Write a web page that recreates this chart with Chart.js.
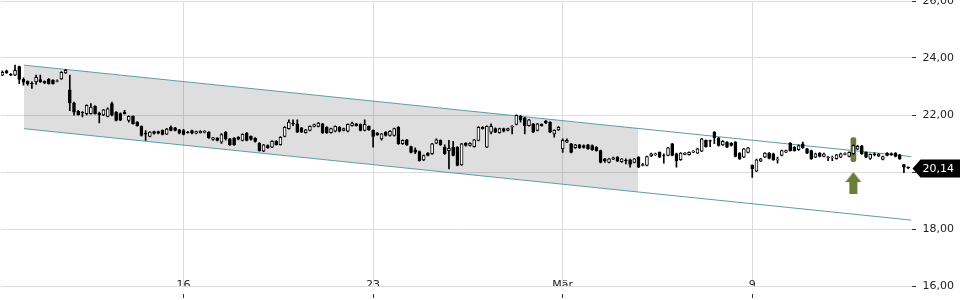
<!DOCTYPE html>
<html>
<head>
<meta charset="utf-8">
<script src="https://cdn.jsdelivr.net/npm/chart.js@4.4.1/dist/chart.umd.min.js"></script>
<style>
  html, body { margin: 0; padding: 0; background: #fff; overflow: hidden; }
  #wrap { position: absolute; left: 0; top: -5px; width: 960px; height: 310px; }
</style>
</head>
<body>
<div id="wrap"><canvas id="chart"></canvas></div>
<script>
// hourly candles, 9 per trading day; index 0 = first hour of Mon 9 Feb
const firstCandle = 2;

const candleOpen = [
  23.40, 23.55, 23.43, 23.40, 23.70, 23.25, 23.18, 23.12, 23.16, 23.24, 23.18, 23.25,
  23.22, 23.18, 23.27, 23.48, 22.88, 22.42, 22.13, 22.10, 22.05, 22.05, 22.30, 22.06,
  22.00, 21.95, 22.40, 22.10, 22.05, 22.10, 21.81, 21.95, 21.75, 21.60, 21.36, 21.25,
  21.42, 21.42, 21.46, 21.33, 21.57, 21.55, 21.48, 21.45, 21.40, 21.45, 21.36, 21.38,
  21.39, 21.40, 21.14, 21.19, 21.05, 21.40, 21.16, 21.19, 21.22, 21.11, 21.37, 21.25,
  21.19, 21.01, 20.73, 20.93, 20.87, 21.08, 20.96, 21.25, 21.52, 21.72, 21.69, 21.55,
  21.38, 21.46, 21.60, 21.60, 21.69, 21.57, 21.38, 21.43, 21.57, 21.46, 21.43, 21.63,
  21.69, 21.67, 21.46, 21.60, 21.46, 21.37, 21.16, 21.40, 21.28, 21.28, 21.57, 20.99,
  21.13, 20.89, 20.78, 20.72, 20.42, 20.66, 20.64, 21.01, 21.11, 20.87, 20.75, 20.87,
  20.87, 20.25, 21.01, 20.93, 20.89, 21.11, 21.57, 20.87, 21.40, 21.52, 21.38, 21.52,
  21.46, 21.57, 21.67, 21.95, 21.90, 21.63, 21.69, 21.46, 21.67, 21.79, 21.75, 21.34,
  21.48, 20.81, 21.05, 20.99, 20.85, 20.95, 20.93, 20.95, 20.93, 20.87, 20.75, 20.46,
  20.34, 20.45, 20.52, 20.36, 20.42, 20.43, 20.34, 20.52, 20.23, 20.23, 20.56, 20.60,
  20.69, 20.58, 20.58, 20.99, 20.64, 20.43, 20.62, 20.61, 20.70, 20.66, 20.73, 21.11,
  21.10, 21.40, 21.20, 20.95, 21.05, 21.01, 21.05, 20.66, 20.52, 20.69, 20.23, 20.03,
  20.38, 20.52, 20.66, 20.64, 20.42, 20.58, 20.70, 21.01, 20.87, 20.78, 20.99, 20.81,
  20.75, 20.52, 20.66, 20.55, 20.50, 20.50, 20.47, 20.52, 20.62, 20.55, 20.64, 20.80,
  20.92, 20.69, 20.48, 20.64, 20.56, 20.44, 20.66, 20.65, 20.66, 20.60, 20.26, 20.17
];
const candleHigh = [
  23.55, 23.58, 23.45, 23.75, 23.72, 23.30, 23.20, 23.16, 23.40, 23.40, 23.20, 23.28,
  23.24, 23.23, 23.52, 23.60, 23.40, 22.45, 22.16, 22.12, 22.36, 22.40, 22.33, 22.10,
  22.20, 22.25, 22.45, 22.12, 22.08, 22.16, 21.97, 21.97, 21.77, 21.62, 21.45, 21.42,
  21.44, 21.44, 21.48, 21.53, 21.62, 21.57, 21.50, 21.50, 21.43, 21.47, 21.44, 21.45,
  21.45, 21.42, 21.22, 21.21, 21.35, 21.43, 21.18, 21.21, 21.24, 21.34, 21.39, 21.27,
  21.21, 21.03, 20.97, 20.95, 21.10, 21.10, 21.24, 21.59, 21.83, 21.83, 21.83, 21.57,
  21.50, 21.62, 21.68, 21.74, 21.71, 21.59, 21.54, 21.62, 21.59, 21.54, 21.69, 21.75,
  21.71, 21.69, 21.83, 21.62, 21.48, 21.39, 21.36, 21.42, 21.45, 21.54, 21.59, 21.13,
  21.15, 20.91, 20.85, 20.74, 20.60, 20.68, 21.01, 21.16, 21.13, 20.95, 21.11, 21.08,
  20.89, 21.01, 21.03, 21.03, 21.15, 21.59, 21.59, 21.62, 21.69, 21.55, 21.54, 21.54,
  21.54, 21.63, 22.01, 21.99, 21.92, 21.85, 21.71, 21.71, 21.69, 21.81, 21.77, 21.48,
  21.59, 21.16, 21.16, 21.01, 20.97, 20.97, 20.95, 20.97, 20.95, 20.89, 20.77, 20.48,
  20.48, 20.52, 20.54, 20.48, 20.46, 20.45, 20.48, 20.54, 20.30, 20.56, 20.66, 20.66,
  20.71, 20.64, 20.87, 21.01, 20.66, 20.68, 20.68, 20.71, 20.75, 20.83, 21.18, 21.13,
  21.12, 21.42, 21.22, 21.10, 21.07, 21.03, 21.07, 20.68, 20.83, 20.87, 20.25, 20.45,
  20.48, 20.68, 20.68, 20.66, 20.52, 20.77, 20.77, 21.03, 20.89, 20.95, 21.05, 20.83,
  20.77, 20.66, 20.68, 20.66, 20.55, 20.56, 20.62, 20.66, 20.67, 20.71, 20.95, 20.94,
  20.94, 20.71, 20.64, 20.67, 20.65, 20.56, 20.68, 20.67, 20.68, 20.62, 20.27, 20.18
];
const candleLow = [
  23.38, 23.46, 23.38, 23.38, 23.10, 23.05, 23.05, 22.93, 23.07, 23.14, 23.10, 23.08,
  23.08, 23.16, 23.25, 23.46, 22.15, 21.99, 21.99, 21.93, 22.00, 22.03, 22.03, 21.72,
  21.98, 21.93, 21.97, 21.79, 21.80, 22.03, 21.75, 21.68, 21.61, 21.26, 21.11, 21.23,
  21.33, 21.34, 21.30, 21.31, 21.44, 21.44, 21.34, 21.30, 21.36, 21.34, 21.34, 21.36,
  21.37, 21.18, 21.11, 21.09, 21.00, 21.12, 20.93, 20.93, 21.13, 21.09, 21.09, 21.12,
  21.05, 20.73, 20.71, 20.83, 20.85, 20.94, 20.94, 21.23, 21.50, 21.63, 21.38, 21.38,
  21.36, 21.44, 21.58, 21.58, 21.35, 21.35, 21.36, 21.41, 21.41, 21.44, 21.41, 21.61,
  21.61, 21.44, 21.44, 21.46, 20.87, 21.28, 21.12, 21.26, 21.26, 21.26, 20.97, 20.97,
  20.93, 20.67, 20.64, 20.38, 20.40, 20.56, 20.62, 20.99, 20.93, 20.62, 20.11, 20.56,
  20.21, 20.23, 20.91, 20.91, 20.87, 21.09, 21.50, 20.85, 21.34, 21.38, 21.36, 21.41,
  21.44, 21.34, 21.65, 21.75, 21.34, 21.61, 21.38, 21.44, 21.61, 21.70, 21.38, 21.22,
  21.46, 20.69, 21.03, 20.67, 20.83, 20.83, 20.84, 20.79, 20.76, 20.73, 20.32, 20.34,
  20.32, 20.43, 20.36, 20.34, 20.28, 20.17, 20.32, 20.15, 20.21, 20.21, 20.54, 20.58,
  20.50, 20.31, 20.56, 20.56, 20.17, 20.41, 20.60, 20.59, 20.68, 20.64, 20.71, 20.87,
  20.89, 20.99, 20.91, 20.93, 20.85, 20.91, 20.53, 20.44, 20.50, 20.67, 19.81, 20.01,
  20.36, 20.50, 20.46, 20.41, 20.31, 20.56, 20.68, 20.73, 20.73, 20.76, 20.83, 20.64,
  20.44, 20.50, 20.53, 20.53, 20.40, 20.40, 20.45, 20.50, 20.60, 20.53, 20.62, 20.78,
  20.62, 20.50, 20.44, 20.56, 20.54, 20.42, 20.56, 20.58, 20.53, 20.44, 19.98, 20.12
];
const candleClose = [
  23.50, 23.48, 23.40, 23.57, 23.25, 23.15, 23.10, 23.10, 23.32, 23.16, 23.13, 23.10,
  23.10, 23.20, 23.50, 23.57, 22.42, 22.10, 22.01, 22.08, 22.34, 22.28, 22.05, 22.00,
  22.18, 22.22, 21.99, 21.81, 21.82, 22.05, 21.95, 21.70, 21.63, 21.28, 21.33, 21.40,
  21.35, 21.36, 21.32, 21.51, 21.46, 21.46, 21.36, 21.32, 21.38, 21.36, 21.42, 21.43,
  21.43, 21.20, 21.20, 21.11, 21.31, 21.16, 20.95, 20.95, 21.15, 21.32, 21.11, 21.14,
  21.07, 20.75, 20.95, 20.85, 21.08, 20.96, 21.22, 21.57, 21.75, 21.69, 21.40, 21.40,
  21.48, 21.60, 21.66, 21.72, 21.37, 21.37, 21.52, 21.60, 21.43, 21.52, 21.67, 21.72,
  21.63, 21.46, 21.67, 21.48, 21.25, 21.30, 21.34, 21.28, 21.43, 21.52, 20.99, 21.11,
  20.95, 20.69, 20.70, 20.40, 20.58, 20.58, 20.99, 21.13, 20.95, 20.64, 20.83, 20.58,
  20.23, 20.99, 20.93, 21.01, 21.13, 21.57, 21.52, 21.60, 21.60, 21.40, 21.52, 21.43,
  21.52, 21.60, 21.99, 21.83, 21.63, 21.83, 21.40, 21.69, 21.63, 21.72, 21.40, 21.46,
  21.57, 21.11, 21.11, 20.69, 20.95, 20.85, 20.86, 20.81, 20.78, 20.75, 20.34, 20.40,
  20.46, 20.50, 20.38, 20.46, 20.40, 20.27, 20.46, 20.17, 20.26, 20.54, 20.64, 20.64,
  20.52, 20.56, 20.85, 20.58, 20.40, 20.66, 20.66, 20.69, 20.73, 20.81, 21.16, 20.89,
  21.08, 21.20, 20.93, 21.08, 20.87, 20.93, 20.55, 20.46, 20.81, 20.85, 20.11, 20.43,
  20.46, 20.66, 20.48, 20.43, 20.45, 20.75, 20.75, 20.75, 20.75, 20.93, 20.85, 20.66,
  20.46, 20.64, 20.55, 20.64, 20.52, 20.51, 20.60, 20.64, 20.65, 20.69, 20.93, 20.90,
  20.64, 20.52, 20.62, 20.60, 20.63, 20.54, 20.58, 20.60, 20.55, 20.46, 20.17, 20.14
];

// first candle of each labelled trading day
const dayTicks = [45, 90, 135, 180];
const dayLabels = ['16', '23', 'Mär', '9'];
const priceTicks = [16, 18, 20, 22, 24, 26];

// trend channel (candle index, price)
const channelX = [7.1, 217.8];
const channelUpper = [23.75, 20.54];
const channelLower = [21.52, 18.31];
const shadeX = [7.1, 152.9];
const shadeUpper = [23.75, 21.53];
const shadeLower = [21.52, 19.31];

// signal marker
const signalCandle = 204;
const signalRange = [20.36, 21.21];
const signalArrow = 19.61;

const lastPrice = 20.14;

const fmt = v => v.toFixed(2).replace('.', ',');
const olive = '#6b7d3b';

// arrow image for the signal point
const arrowImg = document.createElement('canvas');
arrowImg.width = 16;
arrowImg.height = 22;
const actx = arrowImg.getContext('2d');
actx.fillStyle = olive;
actx.beginPath();
actx.moveTo(8, 0);
actx.lineTo(16, 10);
actx.lineTo(12, 10);
actx.lineTo(12, 22);
actx.lineTo(4, 22);
actx.lineTo(4, 10);
actx.lineTo(0, 10);
actx.closePath();
actx.fill();

const bodies = candleOpen.map((o, k) => ({ x: firstCandle + k, y: [o, candleClose[k]] }));
const wicks = candleOpen.map((o, k) => ({ x: firstCandle + k, y: [candleLow[k], candleHigh[k]] }));
const bodyColors = candleOpen.map((o, k) => candleClose[k] >= o ? '#ffffff' : '#000000');

// black price tag on the right axis
const priceTag = {
    id: 'priceTag',
    afterDraw(chart) {
        const { ctx, chartArea, scales } = chart;
        const py = Math.round(scales.y.getPixelForValue(lastPrice)) + 0.5;
        const left = chartArea.right + 1;
        ctx.save();
        ctx.fillStyle = '#000';
        ctx.beginPath();
        ctx.moveTo(left, py);
        ctx.lineTo(left + 8, py - 9);
        ctx.lineTo(chart.width, py - 9);
        ctx.lineTo(chart.width, py + 9);
        ctx.lineTo(left + 8, py + 9);
        ctx.closePath();
        ctx.fill();
        ctx.fillStyle = '#fff';
        ctx.font = '11px "DejaVu Sans"';
        ctx.textBaseline = 'middle';
        ctx.fillText(fmt(lastPrice), chartArea.right + 11, py + 0.5);
        ctx.restore();
    }
};

Chart.defaults.font.family = '"DejaVu Sans", sans-serif';
Chart.defaults.font.size = 11;
Chart.defaults.color = '#222';

// thin line datasets, no point markers
const lineSet = (data, extra) => Object.assign({
    type: 'line',
    data,
    pointRadius: 0,
    pointHoverRadius: 0,
    pointBorderWidth: 0
}, extra);

const ctx = document.getElementById('chart').getContext('2d');
const chart = new Chart(ctx, {
    type: 'bar',
    data: {
        datasets: [
            {
                data: bodies,
                backgroundColor: bodyColors,
                borderColor: '#000',
                borderWidth: 1,
                borderSkipped: false,
                barThickness: 3,
                grouped: false
            },
            {
                data: wicks,
                backgroundColor: '#000',
                borderWidth: 0,
                barThickness: 1,
                grouped: false
            },
            {
                data: [{ x: signalCandle, y: signalRange }],
                backgroundColor: olive,
                borderWidth: 0,
                borderRadius: 2,
                borderSkipped: false,
                barThickness: 5,
                grouped: false
            },
            lineSet([{ x: signalCandle, y: signalArrow }], {
                showLine: false,
                borderWidth: 0,
                pointStyle: arrowImg,
                pointRadius: 1
            }),
            lineSet(channelX.map((x, k) => ({ x, y: channelUpper[k] })), {
                borderColor: '#5a9ea3',
                borderWidth: 1
            }),
            lineSet(channelX.map((x, k) => ({ x, y: channelLower[k] })), {
                borderColor: '#5a9ea3',
                borderWidth: 1
            }),
            lineSet(shadeX.map((x, k) => ({ x, y: shadeUpper[k] })), {
                borderWidth: 0,
                backgroundColor: 'rgba(0, 0, 0, 0.13)',
                fill: '+1'
            }),
            lineSet(shadeX.map((x, k) => ({ x, y: shadeLower[k] })), {
                borderWidth: 0,
                fill: false
            })
        ]
    },
    options: {
        responsive: true,
        maintainAspectRatio: false,
        animation: false,
        events: [],
        layout: { padding: { left: 0, top: 0, right: 6, bottom: 19 } },
        plugins: {
            legend: { display: false },
            tooltip: { enabled: false }
        },
        scales: {
            x: {
                type: 'linear',
                offset: false,
                min: 1.67,
                max: 217.8,
                afterBuildTicks: axis => { axis.ticks = dayTicks.map(v => ({ value: v })); },
                afterFit: axis => { axis.paddingLeft = 0; axis.paddingRight = 0; },
                ticks: {
                    autoSkip: false,
                    maxRotation: 0,
                    padding: -19,
                    font: { size: 11, lineHeight: '12px' },
                    callback: (v, i) => dayLabels[i]
                },
                grid: {
                    offset: false,
                    color: '#dcdcdc',
                    tickLength: 12,
                    tickColor: '#333',
                    tickBorderDash: [0, 8, 4]
                },
                border: { display: false }
            },
            y: {
                position: 'right',
                min: 16,
                max: 26,
                afterBuildTicks: axis => { axis.ticks = priceTicks.map(v => ({ value: v })); },
                ticks: {
                    padding: 0,
                    font: { size: 11, lineHeight: '12px' },
                    callback: v => fmt(v)
                },
                grid: {
                    color: '#dcdcdc',
                    tickLength: 11,
                    tickColor: '#333',
                    tickBorderDash: [4, 7]
                },
                border: { display: false }
            }
        }
    },
    plugins: [priceTag]
});
</script>
</body>
</html>
